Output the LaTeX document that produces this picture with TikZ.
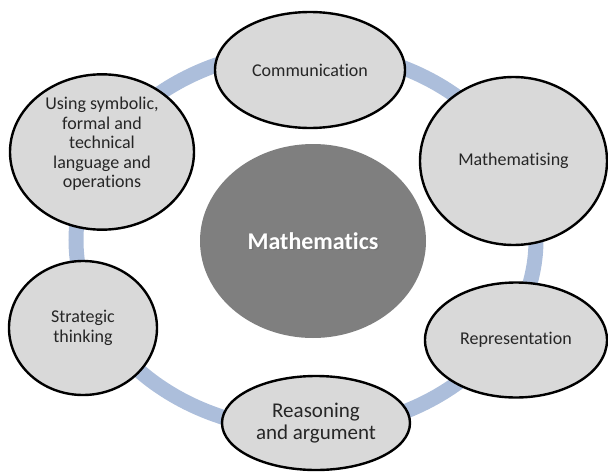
\documentclass[tikz,border=0pt]{standalone}
\usepackage{fontspec}
\setmainfont{Carlito}[Ligatures=NoCommon]
\usetikzlibrary{shapes.geometric}
\definecolor{ringblue}{RGB}{172,190,219}
\definecolor{topicgray}{RGB}{217,217,217}
\definecolor{coregray}{RGB}{127,127,127}

\begin{document}
\begin{tikzpicture}[x=1pt, y=-1pt,
    topic/.style={ellipse, draw=black, line width=2.4pt, fill=topicgray, inner sep=0pt,
        align=center, text=black!85, font=\fontsize{18}{19.5}\selectfont},
    corefont/.style={font=\bfseries\fontsize{24}{28}\selectfont}]
    \useasboundingbox (0,0) rectangle (608,474);
    % the ring behind the topics
    \draw [color=ringblue, line width=15pt] (306,240) ellipse [x radius=230, y radius=190];
    % centre
    \node (core) [ellipse, fill=coregray, minimum width=226pt, minimum height=194pt] at (313,241) {};
    \node (coreshadow) [corefont, text=black!55] at ([shift={(1.5,1.5)}]core.center) {Mathematics};
    \node (corelabel) [corefont, text=white] at (core.center) {Mathematics};
    % topics round the ring
    \node (comm) [topic, minimum width=190pt, minimum height=116pt] at (310,70) {Communication};
    \node (mathz) [topic, minimum width=187pt, minimum height=168pt] at (513.5,161) {Mathematising};
    \node (repr) [topic, minimum width=182pt, minimum height=115pt] at (516,340) {Representation};
    \node (reason) [topic, minimum width=188pt, minimum height=94pt,
        font=\fontsize{21}{22}\selectfont] at (316,423) {Reasoning\\and argument};
    \node (strat) [topic, minimum width=148pt, minimum height=134pt] at (83,328) {Strategic\\thinking};
    \node (symb) [topic, minimum width=184pt, minimum height=139pt] at (102,152)
        {Using symbolic,\\formal and\\technical\\language and\\operations\\[-6pt]\strut};
\end{tikzpicture}
\end{document}
